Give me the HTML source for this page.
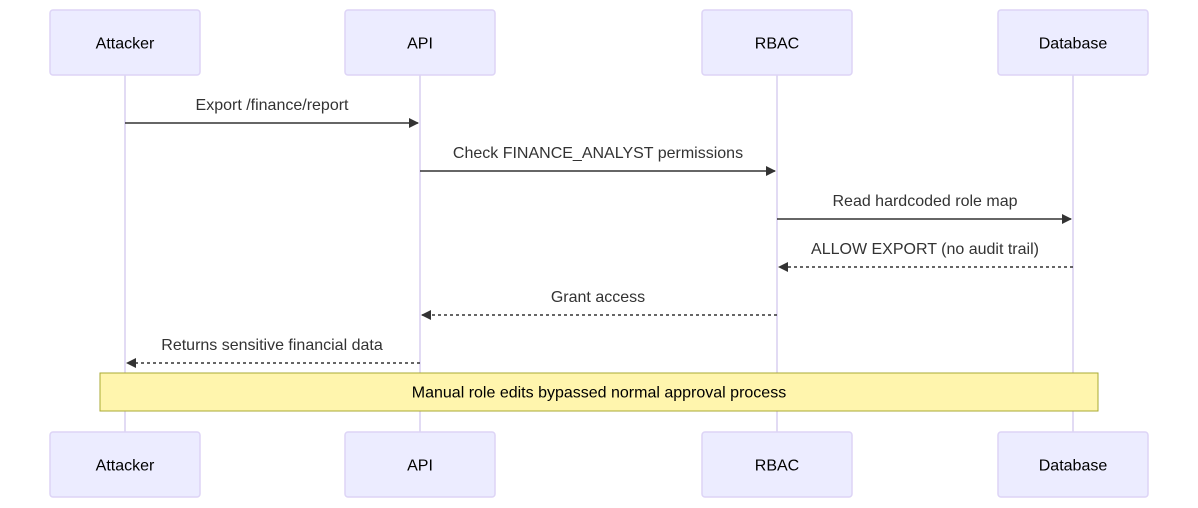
<!DOCTYPE html>
<html><head><meta charset="utf-8"><style>
html,body{margin:0;padding:0;background:#fff;}
svg{display:block;font-family:"Liberation Sans",Arial,sans-serif;}
</style></head><body>
<svg width="1198" height="508" viewBox="0 0 1198 508" xmlns="http://www.w3.org/2000/svg">
<defs>
<marker id="ah" viewBox="0 0 10 10" refX="9" refY="5" markerWidth="10" markerHeight="10" markerUnits="userSpaceOnUse" orient="auto">
<path d="M0,0 L10,5 L0,10 z" fill="#333"/></marker>
</defs>
<g stroke="#d9cff0" stroke-width="1.5">
<line x1="125" y1="75" x2="125" y2="432"/>
<line x1="420" y1="75" x2="420" y2="432"/>
<line x1="777" y1="75" x2="777" y2="432"/>
<line x1="1073" y1="75" x2="1073" y2="432"/>
</g>
<g fill="#ececff" stroke="#ddd4f6" stroke-width="1.5">
<rect x="50" y="10" width="150" height="65" rx="3"/>
<rect x="345" y="10" width="150" height="65" rx="3"/>
<rect x="702" y="10" width="150" height="65" rx="3"/>
<rect x="998" y="10" width="150" height="65" rx="3"/>
<rect x="50" y="432" width="150" height="65" rx="3"/>
<rect x="345" y="432" width="150" height="65" rx="3"/>
<rect x="702" y="432" width="150" height="65" rx="3"/>
<rect x="998" y="432" width="150" height="65" rx="3"/>
</g>
<g font-size="16" fill="#000" text-anchor="middle" dominant-baseline="central">
<text x="125" y="44">Attacker</text><text x="420" y="44">API</text>
<text x="777" y="44">RBAC</text><text x="1073" y="44">Database</text>
<text x="125" y="466">Attacker</text><text x="420" y="466">API</text>
<text x="777" y="466">RBAC</text><text x="1073" y="466">Database</text>
</g>
<g stroke="#333" stroke-width="1.5" marker-end="url(#ah)">
<line x1="125" y1="123" x2="418" y2="123"/>
<line x1="420" y1="171" x2="775" y2="171"/>
<line x1="777" y1="219" x2="1071" y2="219"/>
<line x1="1073" y1="267" x2="779" y2="267" stroke-dasharray="3,3"/>
<line x1="777" y1="315" x2="422" y2="315" stroke-dasharray="3,3"/>
<line x1="420" y1="363" x2="127" y2="363" stroke-dasharray="3,3"/>
</g>
<g font-size="16" fill="#333" text-anchor="middle">
<text x="272" y="110">Export /finance/report</text>
<text x="598" y="158">Check FINANCE_ANALYST permissions</text>
<text x="925" y="206">Read hardcoded role map</text>
<text x="925" y="254">ALLOW EXPORT (no audit trail)</text>
<text x="598" y="302">Grant access</text>
<text x="272" y="350">Returns sensitive financial data</text>
</g>
<rect x="100" y="373" width="998" height="38" fill="#fff5ad" stroke="#aaaa33" stroke-width="1"/>
<text x="599" y="393" font-size="16" fill="#000" text-anchor="middle" dominant-baseline="central">Manual role edits bypassed normal approval process</text>
</svg>
</body></html>
